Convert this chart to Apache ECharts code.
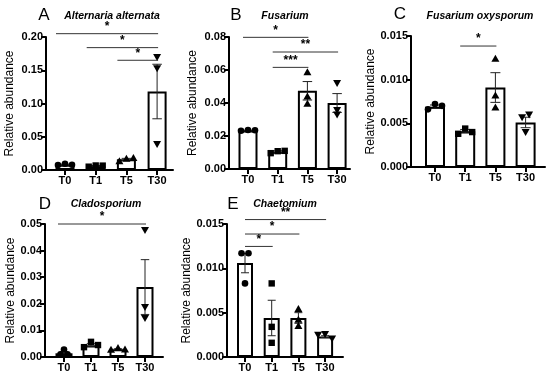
<!DOCTYPE html>
<html><head><meta charset="utf-8">
<script src="https://cdn.jsdelivr.net/npm/echarts@6/dist/echarts.min.js"></script>
<style>html,body{margin:0;padding:0;background:#fff}#c{width:550px;height:377px}</style>
</head><body><div id="c"></div>
<script>
// ---------- data ----------
const categories = ['T0', 'T1', 'T5', 'T30'];
const panelLetters = ['A', 'B', 'C', 'D', 'E'];
const panelTitles = ['Alternaria alternata', 'Fusarium', 'Fusarium oxysporum', 'Cladosporium', 'Chaetomium'];
const yAxisName = 'Relative abundance';

// Panel A – Alternaria alternata
const meanA = [0.008, 0.006, 0.016, 0.118];
const semA = [0.0007, 0.0008, 0.0015, 0.041];
const pointsA = [[0.0075, 0.0095, 0.008], [0.005, 0.0068, 0.0066], [0.013, 0.017, 0.018], [0.170, 0.153, 0.039]];
const sigA = [[0, 3, 0.205, '*'], [1, 3, 0.184, '*'], [2, 3, 0.165, '*']];
const yMaxA = 0.20, yStepA = 0.05;

// Panel B – Fusarium
const meanB = [0.0233, 0.0105, 0.0474, 0.040];
const semB = [0.0002, 0.0005, 0.0056, 0.0057];
const pointsB = [[0.0232, 0.0236, 0.0235], [0.0096, 0.0108, 0.0110], [0.0586, 0.0440, 0.0396], [0.0521, 0.0358, 0.0330]];
const sigB = [[0, 2, 0.0798, '*'], [1, 3, 0.0709, '**'], [1, 2, 0.0616, '***']];
const yMaxB = 0.08, yStepB = 0.02;

// Panel C – Fusarium oxysporum
const meanC = [0.0069, 0.0041, 0.0091, 0.0051];
const semC = [0.0002, 0.0002, 0.0017, 0.0006];
const pointsC = [[0.0066, 0.0072, 0.0070], [0.0038, 0.0044, 0.0040], [0.0124, 0.0082, 0.0068], [0.0057, 0.0060, 0.0040]];
const sigC = [[1, 2, 0.01385, '*']];
const yMaxC = 0.015, yStepC = 0.005;

// Panel D – Cladosporium
const meanD = [0.0014, 0.0044, 0.0029, 0.0263];
const semD = [0.0006, 0.0006, 0.0002, 0.0103];
const pointsD = [[0.0010, 0.0028, 0.0010], [0.0037, 0.0057, 0.0045], [0.0027, 0.0034, 0.0028], [0.0477, 0.0188, 0.0147]];
const sigD = [[0, 3, 0.050, '*']];
const yMaxD = 0.05, yStepD = 0.01;

// Panel E – Chaetomium
const meanE = [0.0106, 0.0044, 0.0044, 0.0023];
const semE = [0.0011, 0.0020, 0.0006, 0.0001];
const pointsE = [[0.0117, 0.0117, 0.0083], [0.0083, 0.0034, 0.0016], [0.0054, 0.0042, 0.0035], [0.0025, 0.0026, 0.0021]];
const sigE = [[0, 3, 0.0155, '**'], [0, 2, 0.01387, '*'], [0, 1, 0.01247, '*']];
const yMaxE = 0.015, yStepE = 0.005;

// ---------- layout (positions / styles) ----------
const panels = [
  { mean: meanA, sem: semA, pts: pointsA, sig: sigA, yMax: yMaxA, yStep: yStepA, dec: 2,
    left: 46, right: 173, top: 37, bottom: 170, c0: 65, step: 30.7, barW: 19,
    letter: [44, 15], title: [112, 16], nameGap: 30, sigStart: -9 },
  { mean: meanB, sem: semB, pts: pointsB, sig: sigB, yMax: yMaxB, yStep: yStepB, dec: 2,
    left: 229, right: 350, top: 37, bottom: 169, c0: 248, step: 29.7, barW: 19,
    letter: [236, 15], title: [285, 16], nameGap: 30, sigStart: -5 },
  { mean: meanC, sem: semC, pts: pointsC, sig: sigC, yMax: yMaxC, yStep: yStepC, dec: 3,
    left: 411, right: 545, top: 36, bottom: 167, c0: 435, step: 30.2, barW: 20,
    letter: [400, 14], title: [480, 16], nameGap: 34, sigStart: -5 },
  { mean: meanD, sem: semD, pts: pointsD, sig: sigD, yMax: yMaxD, yStep: yStepD, dec: 2,
    left: 45, right: 163, top: 224, bottom: 357, c0: 64, step: 27, barW: 17,
    letter: [45, 204], title: [106, 204], nameGap: 28, sigStart: -6 },
  { mean: meanE, sem: semE, pts: pointsE, sig: sigE, yMax: yMaxE, yStep: yStepE, dec: 3,
    left: 227, right: 343, top: 224, bottom: 357, c0: 245, step: 26.7, barW: 16,
    letter: [233, 204], title: [285, 204], nameGap: 33, sigStart: 0 }
];

const FONT = 'Arial, "Liberation Sans", Helvetica, sans-serif';
const grid = [], xAxis = [], yAxis = [], series = [], graphic = [];

function drawSymbol(kind, cx, cy) {
  const st = { fill: '#000' };
  if (kind === 0) return { type: 'circle', shape: { cx, cy, r: 3.3 }, style: st };
  if (kind === 1) return { type: 'rect', shape: { x: cx - 3.2, y: cy - 3.2, width: 6.4, height: 6.4 }, style: st };
  if (kind === 2) return { type: 'polygon', shape: { points: [[cx, cy - 4], [cx + 4, cy + 3], [cx - 4, cy + 3]] }, style: st };
  return { type: 'polygon', shape: { points: [[cx - 4, cy - 3], [cx + 4, cy - 3], [cx, cy + 4]] }, style: st };
}

panels.forEach((p, i) => {
  const xmin = -(p.c0 - p.left) / p.step;
  const xmax = 3 + (p.right - (p.c0 + 3 * p.step)) / p.step;
  grid.push({ left: p.left, top: p.top, width: p.right - p.left, height: p.bottom - p.top, containLabel: false });
  xAxis.push({
    gridIndex: i, type: 'value', min: xmin, max: xmax, z: 10,
    axisLine: { show: true, onZero: false, lineStyle: { color: '#000', width: 2 } },
    axisTick: { show: true, customValues: [0, 1, 2, 3], length: 5, lineStyle: { color: '#000', width: 2 } },
    axisLabel: { show: true, customValues: [0, 1, 2, 3], formatter: v => categories[Math.round(v)],
      color: '#000', fontWeight: 'bold', fontSize: 11, fontFamily: FONT, margin: 5 },
    splitLine: { show: false }
  });
  yAxis.push({
    gridIndex: i, type: 'value', min: 0, max: p.yMax, interval: p.yStep, z: 10,
    axisLine: { show: true, onZero: false, lineStyle: { color: '#000', width: 2 } },
    axisTick: { show: true, length: 5, lineStyle: { color: '#000', width: 2 } },
    axisLabel: { formatter: v => v.toFixed(p.dec), color: '#000', fontWeight: 'bold', fontSize: 11, fontFamily: FONT, margin: 3 },
    splitLine: { show: false },
    name: yAxisName, nameLocation: 'middle', nameGap: p.nameGap,
    nameTextStyle: { fontSize: 12, color: '#000', fontFamily: FONT }
  });
  // bars
  series.push({
    type: 'bar', xAxisIndex: i, yAxisIndex: i, barWidth: p.barW, silent: true, z: 2,
    data: p.mean.map((m, k) => [k, m]),
    itemStyle: { color: '#fff', borderColor: '#000', borderWidth: 2 }
  });
  // error bars
  const cap = p.barW / 2;
  series.push({
    type: 'custom', xAxisIndex: i, yAxisIndex: i, silent: true, clip: false, z: 4,
    data: p.mean.map((m, k) => [k, m, p.sem[k]]),
    renderItem: (params, api) => {
      const x = api.value(0), m = api.value(1), s = api.value(2);
      const t = api.coord([x, m + s]), b = api.coord([x, m - s]);
      const ls = { stroke: '#222', lineWidth: 1 };
      return { type: 'group', children: [
        { type: 'line', shape: { x1: t[0], y1: t[1], x2: b[0], y2: b[1] }, style: ls },
        { type: 'line', shape: { x1: t[0] - cap / 2, y1: t[1], x2: t[0] + cap / 2, y2: t[1] }, style: ls },
        { type: 'line', shape: { x1: b[0] - cap / 2, y1: b[1], x2: b[0] + cap / 2, y2: b[1] }, style: ls }
      ] };
    }
  });
  // points (horizontally spread when overlapping, like a column scatter)
  series.push({
    type: 'custom', xAxisIndex: i, yAxisIndex: i, silent: true, clip: false, z: 5,
    data: p.pts.map((arr, k) => [k].concat(arr)),
    renderItem: (params, api) => {
      const k = api.value(0);
      const vals = [api.value(1), api.value(2), api.value(3)];
      const pix = vals.map((v, j) => ({ j, c: api.coord([k, v]) }));
      const sorted = pix.slice().sort((a, b) => a.c[1] - b.c[1]);
      const clusters = [];
      sorted.forEach(pt => {
        const last = clusters[clusters.length - 1];
        if (last && Math.abs(pt.c[1] - last[last.length - 1].c[1]) < 4) last.push(pt);
        else clusters.push([pt]);
      });
      const children = [];
      clusters.forEach(cl => {
        cl.sort((a, b) => a.j - b.j);
        cl.forEach((pt, idx) => {
          const off = (idx - (cl.length - 1) / 2) * 7;
          children.push(drawSymbol(k, pt.c[0] + off, pt.c[1]));
        });
      });
      return { type: 'group', children };
    }
  });
  // significance brackets
  series.push({
    type: 'custom', xAxisIndex: i, yAxisIndex: i, silent: true, clip: false, z: 5,
    data: p.sig.map(s => [s[0], s[1], s[2], s[3]]),
    renderItem: (params, api) => {
      const s = p.sig[params.dataIndex];
      const a = api.coord([s[0], s[2]]), b = api.coord([s[1], s[2]]);
      const x1 = a[0] + p.sigStart, x2 = b[0] + 1;
      return { type: 'group', children: [
        { type: 'line', shape: { x1, y1: a[1], x2, y2: a[1] }, style: { stroke: '#333', lineWidth: 1 } },
        { type: 'text', x: (x1 + x2) / 2, y: a[1] - 1,
          style: { text: s[3], fill: '#000', font: 'bold 12px ' + FONT, textAlign: 'center', textVerticalAlign: 'bottom' } }
      ] };
    }
  });
  graphic.push({ type: 'text', x: p.letter[0], y: p.letter[1],
    style: { text: panelLetters[i], fill: '#000', font: '17px ' + FONT, textAlign: 'center', textVerticalAlign: 'middle' } });
  graphic.push({ type: 'text', x: p.title[0], y: p.title[1],
    style: { text: panelTitles[i], fill: '#000', font: 'italic bold 10.5px ' + FONT, textAlign: 'center', textVerticalAlign: 'middle' } });
});

const chart = echarts.init(document.getElementById('c'), null, { renderer: 'canvas' });
chart.setOption({ animation: false, backgroundColor: '#fff', grid, xAxis, yAxis, series, graphic });
</script>
</body></html>
